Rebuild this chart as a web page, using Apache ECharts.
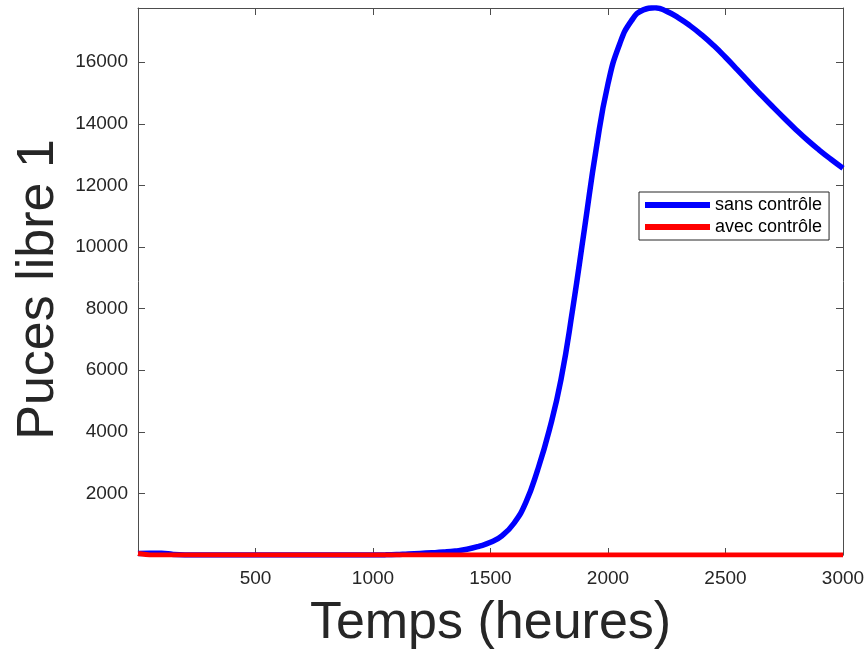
<!DOCTYPE html>
<html>
<head>
<meta charset="utf-8">
<script src="https://cdn.jsdelivr.net/npm/echarts@6/dist/echarts.min.js"></script>
<style>
html,body{margin:0;padding:0;background:#fff;}
#chart{width:868px;height:654px;}
</style>
</head>
<body>
<div id="chart"></div>
<script>
const timeHours = [0,50,100,150,200,250,300,350,400,450,500,550,600,650,700,750,800,850,900,950,1000,1050,1100,1150,1200,1250,1300,1350,1400,1450,1500,1550,1600,1650,1700,1750,1800,1850,1900,1950,2000,2050,2100,2150,2200,2250,2300,2350,2400,2450,2500,2550,2600,2650,2700,2750,2800,2850,2900,2950,3000];
const sansControle = [50,60,55,20,4,1,0,0,0,0,0,0,0,0,0,0,0,0,0,0,0,4,15,35,50,70,95,130,185,280,410,630,1030,1700,2750,4050,5700,8000,10600,13200,15300,16600,17350,17700,17770,17650,17440,17180,16880,16540,16160,15760,15350,14950,14560,14180,13810,13460,13140,12840,12556];
const avecControle = [50,0,0,0,0,0,0,0,0,0,0,0,0,0,0,0,0,0,0,0,0,0,0,0,0,0,0,0,0,0,0,0,0,0,0,0,0,0,0,0,0,0,0,0,0,0,0,0,0,0,0,0,0,0,0,0,0,0,0,0,0];
const seriesNames = ['sans contrôle','avec contrôle'];
const xTitle = 'Temps (heures)';
const yTitle = 'Puces libre 1';

const pairs = (xs, ys) => xs.map((x, i) => [x, ys[i]]);
const textColor = '#262626';
const axisColor = '#4d4d4d';
const font = 'Liberation Sans';
const plain = v => String(v);

const chart = echarts.init(document.getElementById('chart'), null, {renderer: 'canvas'});
const baseX = {
  type: 'value', min: 0, max: 3000, interval: 500,
  axisLine: {show: true, onZero: false, lineStyle: {color: axisColor, width: 1}},
  axisTick: {show: true, inside: true, length: 7, lineStyle: {color: axisColor}},
  splitLine: {show: false}
};
const baseY = {
  type: 'value', min: 0, max: 17760, interval: 2000,
  axisLine: {show: true, onZero: false, lineStyle: {color: axisColor, width: 1}},
  axisTick: {show: true, inside: true, length: 7, lineStyle: {color: axisColor}},
  splitLine: {show: false}
};
chart.setOption({
  animation: false,
  backgroundColor: '#ffffff',
  grid: {left: 138, right: 25, top: 8, bottom: 99, containLabel: false, outerBoundsMode: 'none'},
  legend: {
    orient: 'vertical', left: 639, top: 192,
    data: seriesNames,
    icon: 'rect', itemWidth: 65, itemHeight: 6, itemGap: 4,
    padding: [4, 7, 4, 6],
    borderColor: '#262626', borderWidth: 1, backgroundColor: '#fff',
    textStyle: {fontFamily: font, fontSize: 18, color: '#000'}
  },
  xAxis: [
    Object.assign({}, baseX, {
      position: 'bottom',
      name: xTitle, nameLocation: 'middle', nameGap: 43,
      nameTextStyle: {fontFamily: font, fontSize: 52, color: textColor},
      axisLabel: {show: true, showMinLabel: false, margin: 14, formatter: plain, fontFamily: font, fontSize: 19, color: textColor}
    }),
    Object.assign({}, baseX, {position: 'top', axisLabel: {show: false}})
  ],
  yAxis: [
    Object.assign({}, baseY, {
      position: 'left',
      name: yTitle, nameLocation: 'middle', nameGap: 69,
      nameTextStyle: {fontFamily: font, fontSize: 52, color: textColor, padding: [0, 16, 0, 0]},
      axisLabel: {show: true, showMinLabel: false, showMaxLabel: false, margin: 10, formatter: plain, fontFamily: font, fontSize: 19, color: textColor}
    }),
    Object.assign({}, baseY, {position: 'right', axisLabel: {show: false}})
  ],
  series: [
    {
      name: seriesNames[0], type: 'line', xAxisIndex: 0, yAxisIndex: 0,
      data: pairs(timeHours, sansControle),
      showSymbol: false, smooth: true,
      lineStyle: {color: '#0000ff', width: 5.5},
      itemStyle: {color: '#0000ff'}, z: 2
    },
    {
      name: seriesNames[1], type: 'line', xAxisIndex: 0, yAxisIndex: 0,
      data: pairs(timeHours, avecControle),
      showSymbol: false,
      lineStyle: {color: '#ff0000', width: 5},
      itemStyle: {color: '#ff0000'}, z: 3
    }
  ]
});
</script>
</body>
</html>
